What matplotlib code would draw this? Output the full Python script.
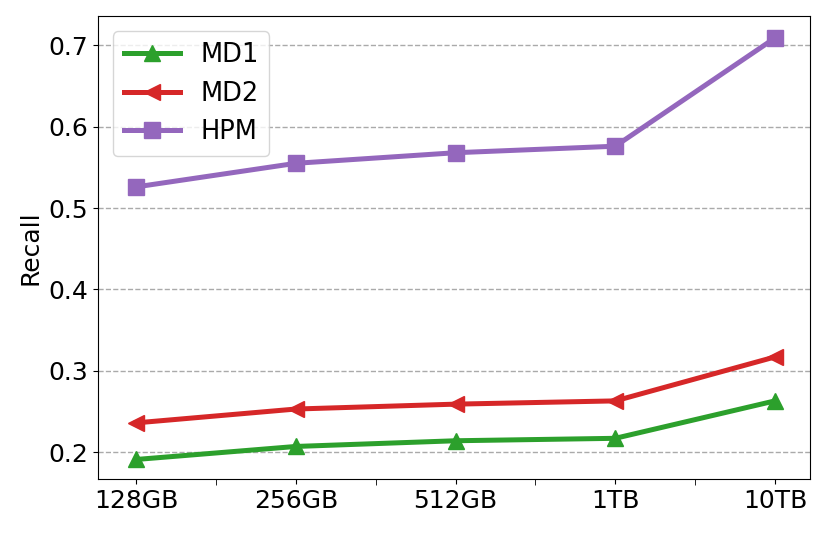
import numpy as np
import matplotlib
matplotlib.use("Agg")
import matplotlib.pyplot as plt
from matplotlib.ticker import MultipleLocator

sizes = ["128GB", "256GB", "512GB", "1TB", "10TB"]
md1 = [0.191, 0.207, 0.214, 0.217, 0.263]
md2 = [0.236, 0.253, 0.259, 0.263, 0.317]
hpm = [0.526, 0.555, 0.568, 0.576, 0.709]


def main():
	fig = plt.figure(figsize=(8.3, 5.34), dpi=100)
	ax = fig.add_axes([0.118, 0.103, 0.858, 0.867])

	x = np.arange(len(sizes))
	ax.plot(x, md1, color="tab:green", marker="^", lw=3.6, ms=11, label="MD1")
	ax.plot(x, md2, color="tab:red", marker="<", lw=3.6, ms=11, label="MD2")
	ax.plot(x, hpm, color="tab:purple", marker="s", lw=3.6, ms=11, label="HPM")

	ax.set_xticks(x)
	ax.set_xticklabels(sizes)
	ax.xaxis.set_minor_locator(MultipleLocator(0.5))
	ax.tick_params(axis="x", which="minor", length=4)
	ax.set_xlim(-0.24, 4.22)
	ax.set_ylim(0.167, 0.736)
	ax.set_yticks([0.2, 0.3, 0.4, 0.5, 0.6, 0.7])
	ax.tick_params(labelsize=18)
	ax.set_ylabel("Recall", fontsize=18)
	ax.grid(axis="y", ls="--", color="#aaaaaa", lw=1)
	ax.set_axisbelow(True)
	ax.legend(loc="upper left", fontsize=18.5, handlelength=2.2,
		borderaxespad=0.6)

	fig.savefig("out.png", dpi=100)

if __name__ == '__main__':
	main()
